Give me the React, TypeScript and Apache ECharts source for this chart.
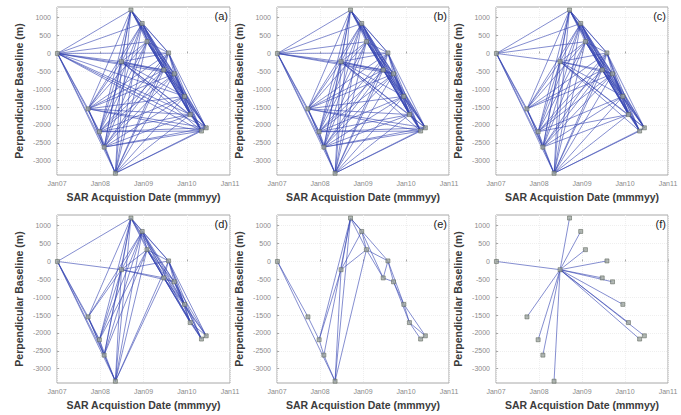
import React, { useEffect, useRef } from "react";
import * as echarts from "echarts";

// Acquisition dates (decimal years) and perpendicular baselines (m)
const acqDates = [2007.01, 2007.72, 2007.98, 2008.09, 2008.35, 2008.49, 2008.71, 2008.97, 2009.08, 2009.47, 2009.58, 2009.71, 2009.95, 2010.08, 2010.34, 2010.45];
const acqBaselines = [0, -1550, -2190, -2620, -3350, -230, 1215, 840, 330, -460, 15, -570, -1200, -1710, -2170, -2080];

const xTickValues = [2007, 2008, 2009, 2010, 2011];
const yTickValues = [1000, 500, 0, -500, -1000, -1500, -2000, -2500, -3000];
const panelLabels = ["(a)", "(b)", "(c)", "(d)", "(e)", "(f)"];

// maximum temporal span (years) of pairs kept in networks a-d
const maxSpanA = 99;
const maxSpanB = 2.8;
const maxSpanC = 2.2;
const maxSpanD = 1.3;
// extra pairs (1-based) in network d
const extraPairsD = [[1, 5], [1, 6], [1, 7]];
// network e pairs (1-based)
const pairsE = [
  [1, 2], [2, 3], [3, 4], [4, 5], [1, 5], [3, 6], [4, 7], [5, 6], [5, 7], [5, 9], [6, 7], [6, 8], [6, 9], [3, 7],
  [7, 8], [7, 9], [7, 11], [8, 9], [8, 10], [9, 10], [9, 11], [10, 11], [10, 12], [11, 12], [11, 13], [12, 13],
  [13, 14], [12, 14], [14, 15], [14, 16], [15, 16], [13, 16],
];
// network f: single master (1-based)
const masterF = 6;

function spanPairs(maxSpan: number): number[][] {
  const out: number[][] = [];
  for (let i = 0; i < acqDates.length; i++)
    for (let j = i + 1; j < acqDates.length; j++)
      if (acqDates[j] - acqDates[i] <= maxSpan) out.push([i, j]);
  return out;
}

function buildNetworks(): number[][][] {
  const a = spanPairs(maxSpanA);
  const b = spanPairs(maxSpanB);
  const c = spanPairs(maxSpanC);
  const d = spanPairs(maxSpanD);
  extraPairsD.forEach(([p, q]) => {
    if (!d.some(([x, y]) => x === p - 1 && y === q - 1)) d.push([p - 1, q - 1]);
  });
  const e = pairsE.map(([p, q]) => [p - 1, q - 1]);
  const f: number[][] = [];
  for (let k = 0; k < acqDates.length; k++) if (k !== masterF - 1) f.push([masterF - 1, k]);
  return [a, b, c, d, e, f];
}

const colLeft = [57, 277, 496];
const colWidth = [173, 172, 172];
const rowTop = [7, 215];
const gridH = 168;

export default function App() {
  const ref = useRef<HTMLDivElement>(null);
  useEffect(() => {
    if (!ref.current) return;
    const chart = echarts.init(ref.current, null, { renderer: "svg" });
    const nets = buildNetworks();
    const grids: any[] = [];
    const xAxes: any[] = [];
    const yAxes: any[] = [];
    const series: any[] = [];
    const graphics: any[] = [];
    const font = "Liberation Sans, Arial, sans-serif";
    nets.forEach((edges, i) => {
      const c = i % 3;
      const r = Math.floor(i / 3);
      grids.push({
        left: colLeft[c], top: rowTop[r], width: colWidth[c], height: gridH,
        show: true, borderColor: "#a8a8a8", borderWidth: 1, backgroundColor: "#fff",
      });
      xAxes.push({
        gridIndex: i, type: "value", min: 2007, max: 2011, interval: 1,
        axisLine: { show: false },
        axisTick: { show: true, inside: true, length: 2, lineStyle: { color: "#aaa" } },
        axisLabel: {
          customValues: xTickValues,
          formatter: (v: number) => "Jan" + String(Math.round(v)).slice(2),
          fontSize: 7, color: "#8a8a8a", margin: 5, fontFamily: font,
        },
        splitLine: { show: true, lineStyle: { color: "#efefef", type: "dotted" } },
        name: "SAR Acquistion Date (mmmyy)", nameLocation: "middle", nameGap: 16,
        nameTextStyle: { fontWeight: "bold", fontSize: 10.5, color: "#3c3c3c", fontFamily: font },
      });
      yAxes.push({
        gridIndex: i, type: "value", min: -3400, max: 1300,
        axisLine: { show: false },
        axisTick: { show: true, inside: true, length: 2, customValues: yTickValues, lineStyle: { color: "#aaa" } },
        axisLabel: {
          customValues: yTickValues, formatter: (v: number) => String(v),
          fontSize: 7, color: "#8a8a8a", margin: 6, fontFamily: font,
        },
        splitLine: { show: true, lineStyle: { color: "#efefef", type: "dotted" } },
        name: "Perpendicular Baseline (m)", nameLocation: "middle", nameGap: 33,
        nameTextStyle: { fontWeight: "bold", fontSize: 10.5, color: "#3c3c3c", fontFamily: font },
      });
      series.push({
        type: "lines", coordinateSystem: "cartesian2d", xAxisIndex: i, yAxisIndex: i, silent: true,
        lineStyle: { color: "#3442b0", width: 1, opacity: 0.6 },
        data: edges.map(([p, q]) => ({ coords: [[acqDates[p], acqBaselines[p]], [acqDates[q], acqBaselines[q]]] })),
        z: 2,
      });
      series.push({
        type: "scatter", xAxisIndex: i, yAxisIndex: i, symbol: "rect", symbolSize: 4, silent: true,
        itemStyle: { color: "#a0a8a0", borderColor: "#5a625a", borderWidth: 0.7 },
        data: acqDates.map((d, k) => [d, acqBaselines[k]]),
        z: 3,
      });
      graphics.push({
        type: "text", right: 681 - (colLeft[c] + colWidth[c]) + 2, top: rowTop[r] + 3,
        style: { text: panelLabels[i], fontSize: 11, fill: "#222", fontFamily: font },
        z: 10,
      });
    });
    chart.setOption({
      animation: false,
      backgroundColor: "#fff",
      grid: grids,
      xAxis: xAxes,
      yAxis: yAxes,
      series,
      graphic: graphics,
    });
    return () => chart.dispose();
  }, []);
  return <div ref={ref} style={{ position: "fixed", left: 0, top: 0, width: 681, height: 415 }} />;
}
